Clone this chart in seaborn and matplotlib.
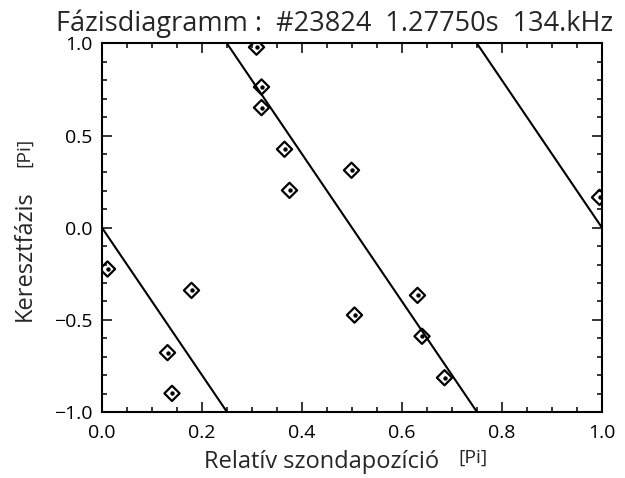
import numpy as np
import pandas as pd
import matplotlib
matplotlib.use("Agg")
import matplotlib.pyplot as plt
import seaborn as sns
from matplotlib.ticker import MultipleLocator

# data
pos_x = [0.309, 0.319, 0.319, 0.365, 0.375, 0.011, 0.179, 0.131, 0.140,
         0.499, 0.995, 0.505, 0.631, 0.640, 0.685]
phase_y = [0.98, 0.764, 0.652, 0.426, 0.203, -0.224, -0.340, -0.678, -0.899,
           0.312, 0.165, -0.474, -0.367, -0.589, -0.814]

line_seg = [0, 0, 1, 1, 2, 2]
line_x = [0.0, 0.25, 0.25, 0.75, 0.75, 1.0]
line_y = [0.0, -1.0, 1.0, -1.0, 1.0, 0.0]

title = "Fázisdiagramm :  #23824  1.27750s  134.kHz"
xlabel = "Relatív szondapozíció"
ylabel = "Keresztfázis"
unit = "[Pi]"

sns.set_style("ticks")
plt.rcParams["font.family"] = ["Open Sans", "DejaVu Sans"]

fig = plt.figure(figsize=(6.25, 4.78), dpi=100)
ax = fig.add_axes([0.1632, 0.1381, 0.8, 0.7709])

pts = pd.DataFrame({"x": pos_x, "y": phase_y})
lines = pd.DataFrame({"seg": line_seg, "x": line_x, "y": line_y})

sns.lineplot(data=lines, x="x", y="y", units="seg", estimator=None,
             color="black", linewidth=1.5, ax=ax, sort=False)
sns.scatterplot(data=pts, x="x", y="y", marker="D", s=60,
                facecolor="none", edgecolor="black", linewidth=1.6, ax=ax, zorder=3)
sns.scatterplot(data=pts, x="x", y="y", marker="o", s=10,
                color="black", linewidth=0, ax=ax, zorder=4)

ax.set_xlim(0, 1)
ax.set_ylim(-1, 1)
ax.xaxis.set_major_locator(MultipleLocator(0.2))
ax.xaxis.set_minor_locator(MultipleLocator(0.05))
ax.yaxis.set_major_locator(MultipleLocator(0.5))
ax.yaxis.set_minor_locator(MultipleLocator(0.1))
ax.xaxis.set_major_formatter(matplotlib.ticker.FormatStrFormatter("%.1f"))
ax.yaxis.set_major_formatter(matplotlib.ticker.FuncFormatter(
    lambda v, p: ("%.1f" % v).replace("-", "\u2212")))
ax.tick_params(which="both", direction="in", top=True, right=True,
               width=1.1, colors="black", labelsize=14)
ax.tick_params(which="major", length=7.2)
ax.tick_params(which="minor", length=3.6)
ax.tick_params(axis="x", pad=9)
ax.tick_params(axis="y", pad=7)
for s in ax.spines.values():
    s.set_linewidth(1.5)
    s.set_color("black")
ax.set_xlabel("")
ax.set_ylabel("")

fig.text(0.536, 0.950, title, ha="center", va="center", fontsize=19.5)
fig.text(0.515, 0.033, xlabel, ha="center", va="center", fontsize=17)
fig.text(0.757, 0.042, unit, ha="center", va="center", fontsize=14)
fig.text(0.040, 0.465, ylabel, ha="center", va="center", fontsize=17, rotation=90)
fig.text(0.038, 0.682, unit, ha="center", va="center", fontsize=14, rotation=90)

fig.savefig("out.png", dpi=100)
